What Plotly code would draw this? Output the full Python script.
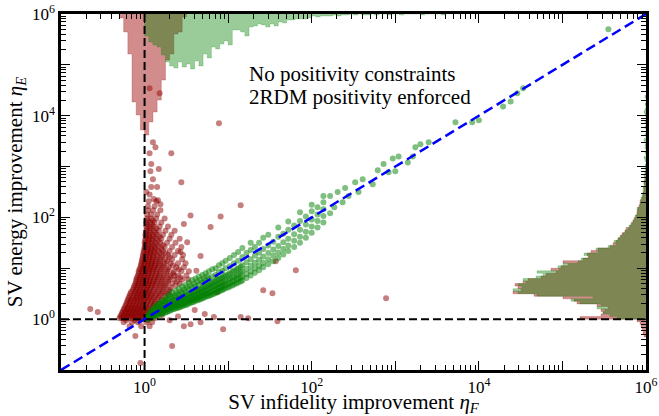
import plotly.graph_objects as go

# ---------------- data (log10 exponents) ----------------
# dense cloud of "No positivity constraints" points: rows of (log10 eta_E, [log10 eta_F ...])
red_cloud_rows = [
    (-0.14, [-0.18, -0.04, 0.06]),
    (-0.06, [-0.25, -0.15, -0.08, 0.02, 0.09]),
    (-0.02, [-0.22, -0.12, -0.05, 0.04]),
    (0.02, [-0.30, -0.27, -0.23, -0.19, -0.15, -0.11, -0.07, -0.03, 0.01, 0.06, 0.12]),
    (0.05, [-0.29, -0.25, -0.21, -0.17, -0.13, -0.09, -0.05, -0.01, 0.03, 0.08]),
    (0.08, [-0.28, -0.24, -0.20, -0.16, -0.12, -0.08, -0.04, 0.00, 0.05, 0.10, 0.21]),
    (0.12, [-0.27, -0.23, -0.19, -0.15, -0.11, -0.07, -0.03, 0.01, 0.06]),
    (0.15, [-0.26, -0.22, -0.18, -0.14, -0.10, -0.06, -0.02, 0.03, 0.08]),
    (0.19, [-0.25, -0.21, -0.17, -0.13, -0.09, -0.05, -0.01, 0.04]),
    (0.22, [-0.24, -0.20, -0.16, -0.12, -0.08, -0.04, 0.00, 0.05, 0.10]),
    (0.26, [-0.23, -0.19, -0.15, -0.11, -0.07, -0.03, 0.01, 0.06, 0.11]),
    (0.30, [-0.22, -0.18, -0.14, -0.10, -0.06, -0.02, 0.02, 0.07, 0.12, 0.17]),
    (0.34, [-0.21, -0.17, -0.13, -0.09, -0.05, -0.01, 0.03, 0.08, 0.13]),
    (0.38, [-0.20, -0.16, -0.12, -0.08, -0.04, 0.00, 0.04, 0.09, 0.15, 0.21]),
    (0.42, [-0.19, -0.14, -0.10, -0.06, -0.02, 0.02, 0.06, 0.11, 0.17]),
    (0.46, [-0.18, -0.13, -0.09, -0.05, -0.01, 0.03, 0.08, 0.13, 0.19, 0.25]),
    (0.50, [-0.17, -0.12, -0.08, -0.04, 0.00, 0.04, 0.08, 0.14, 0.20, 0.27]),
    (0.54, [-0.16, -0.11, -0.07, -0.03, 0.01, 0.05, 0.10, 0.16, 0.22, 0.29]),
    (0.58, [-0.14, -0.10, -0.06, -0.02, 0.02, 0.06, 0.11, 0.17, 0.23, 0.30]),
    (0.62, [-0.13, -0.09, -0.05, -0.01, 0.03, 0.07, 0.12, 0.18, 0.24, 0.31]),
    (0.66, [-0.12, -0.08, -0.04, 0.00, 0.04, 0.08, 0.13, 0.19, 0.25, 0.37]),
    (0.70, [-0.11, -0.07, -0.03, 0.01, 0.05, 0.09, 0.14, 0.20, 0.26, 0.33, 0.42]),
    (0.74, [-0.10, -0.06, -0.02, 0.02, 0.06, 0.10, 0.15, 0.21, 0.28, 0.39]),
    (0.78, [-0.10, -0.06, -0.02, 0.02, 0.06, 0.11, 0.16, 0.22, 0.29, 0.36, 0.45, 0.52]),
    (0.82, [-0.09, -0.05, -0.01, 0.03, 0.07, 0.12, 0.17, 0.23, 0.30, 0.43]),
    (0.86, [-0.08, -0.04, 0.00, 0.04, 0.08, 0.13, 0.18, 0.24, 0.31, 0.40, 0.50]),
    (0.90, [-0.07, -0.03, 0.01, 0.05, 0.09, 0.14, 0.19, 0.26, 0.34]),
    (0.94, [-0.07, -0.03, 0.01, 0.05, 0.09, 0.14, 0.20, 0.27, 0.35, 0.44, 0.53]),
    (0.98, [-0.06, -0.02, 0.02, 0.06, 0.10, 0.15, 0.21, 0.28, 0.41]),
    (1.02, [-0.05, -0.01, 0.03, 0.07, 0.11, 0.16, 0.22, 0.29, 0.38, 0.47]),
    (1.06, [-0.04, 0.00, 0.04, 0.08, 0.12, 0.17, 0.23, 0.34]),
    (1.10, [-0.04, 0.00, 0.04, 0.08, 0.13, 0.18, 0.24, 0.31, 0.40, 0.49]),
    (1.14, [-0.03, 0.01, 0.05, 0.09, 0.13, 0.19, 0.27]),
    (1.18, [-0.03, 0.01, 0.05, 0.09, 0.14, 0.19, 0.25, 0.33, 0.45]),
    (1.22, [-0.02, 0.02, 0.06, 0.10, 0.15, 0.21, 0.30]),
    (1.26, [-0.02, 0.02, 0.06, 0.10, 0.15, 0.21, 0.28, 0.36, 0.46]),
    (1.30, [-0.01, 0.03, 0.07, 0.12, 0.18, 0.25]),
    (1.34, [-0.01, 0.03, 0.07, 0.11, 0.16, 0.22, 0.30, 0.40]),
    (1.38, [0.00, 0.04, 0.08, 0.13, 0.20]),
    (1.42, [0.00, 0.04, 0.08, 0.12, 0.17, 0.24, 0.33, 0.44]),
    (1.46, [0.01, 0.05, 0.10, 0.15, 0.22]),
    (1.50, [0.00, 0.04, 0.08, 0.13, 0.19, 0.27, 0.37]),
    (1.54, [0.01, 0.05, 0.10, 0.16]),
    (1.58, [0.01, 0.05, 0.09, 0.14, 0.20, 0.30, 0.42]),
    (1.62, [0.02, 0.06, 0.11, 0.18]),
    (1.66, [0.01, 0.05, 0.10, 0.15, 0.22, 0.32]),
    (1.70, [0.02, 0.07, 0.13]),
    (1.74, [0.02, 0.06, 0.11, 0.17, 0.25, 0.36]),
    (1.78, [0.03, 0.08, 0.14]),
    (1.82, [0.02, 0.06, 0.11, 0.18, 0.28]),
    (1.86, [0.03, 0.09]),
    (1.90, [0.02, 0.07, 0.12, 0.20]),
    (1.94, [0.04, 0.10]),
    (1.98, [0.03, 0.08, 0.14, 0.24]),
    (2.06, [0.03, 0.08, 0.15]),
    (2.14, [0.04, 0.10, 0.19]),
    (2.22, [0.04, 0.12]),
    (2.32, [0.05, 0.14]),
    (2.45, [0.06]),
    (2.60, [0.08, 0.15]),
    (2.75, [0.10]),
]
# scattered "No positivity constraints" points: (log10 eta_F, log10 eta_E)
red_outliers = [
    (0.06, 4.54), (0.18, 4.44), (0.89, 3.85), (0.10, 3.48), (0.13, 3.38), (0.32, 3.26),
    (0.06, 3.26), (0.08, 3.05), (0.17, 2.95), (0.07, 2.91), (0.44, 2.69), (0.02, 2.50),
    (0.11, 2.36), (0.16, 2.34), (0.19, 2.26), (1.15, 2.24), (0.55, 2.04), (0.91, 2.02),
    (0.79, 1.81), (0.47, 1.87), (0.51, 1.51), (0.43, 1.32), (0.67, 1.24), (1.57, 1.14),
    (1.81, 0.96), (1.42, 0.57), (1.53, 0.51), (0.87, 0.53), (1.24, 0.02), (1.59, -0.04),
    (0.47, -0.14), (2.89, 0.41), (-0.65, 0.20), (-0.56, 0.14), (-0.11, -0.33), (0.33, -0.53),
    (-0.05, -0.86), (0.67, -0.06), (0.83, 0.04), (0.94, -0.20), (0.55, -0.10), (1.15, 0.04),
    (0.60, 0.18), (0.72, 0.10), (0.40, 0.05), (0.30, -0.02), (0.62, 0.95), (0.36, 0.85),
]

# dense band of "2RDM positivity enforced" points: columns of (log10 eta_F, [log10 eta_E ...])
green_band_cols = [
    (0.02, [0.00, 0.03]), (0.035, [0.01, 0.05]),
    (0.05, [0.01, 0.05, 0.10]), (0.07, [0.02, 0.06, 0.11, 0.15]),
    (0.09, [0.03, 0.08, 0.13, 0.18]), (0.11, [0.04, 0.08, 0.12, 0.17, 0.22]),
    (0.13, [0.06, 0.10, 0.15, 0.20, 0.26]), (0.15, [0.07, 0.11, 0.16, 0.22, 0.28]),
    (0.17, [0.08, 0.13, 0.18, 0.24, 0.31]), (0.19, [0.09, 0.14, 0.19, 0.25, 0.32]),
    (0.21, [0.11, 0.16, 0.21, 0.27, 0.35]), (0.23, [0.12, 0.17, 0.22, 0.28, 0.36]),
    (0.25, [0.13, 0.18, 0.23, 0.29, 0.36, 0.42]), (0.27, [0.14, 0.19, 0.25, 0.31, 0.39]),
    (0.29, [0.16, 0.21, 0.26, 0.32, 0.40, 0.48]), (0.31, [0.17, 0.22, 0.27, 0.34, 0.45]),
    (0.33, [0.19, 0.24, 0.29, 0.35, 0.43, 0.53]), (0.35, [0.20, 0.25, 0.30, 0.36, 0.46]),
    (0.37, [0.21, 0.26, 0.31, 0.37, 0.45, 0.56]), (0.39, [0.22, 0.27, 0.32, 0.39, 0.50]),
    (0.41, [0.23, 0.28, 0.34, 0.40, 0.48, 0.60]), (0.43, [0.24, 0.29, 0.35, 0.42, 0.54]),
    (0.45, [0.26, 0.31, 0.37, 0.43, 0.52, 0.64]), (0.47, [0.27, 0.32, 0.38, 0.45, 0.58]),
    (0.49, [0.28, 0.33, 0.39, 0.46, 0.55, 0.67]), (0.51, [0.29, 0.34, 0.40, 0.48, 0.62]),
    (0.53, [0.31, 0.36, 0.42, 0.49, 0.58, 0.72]), (0.55, [0.32, 0.37, 0.43, 0.51, 0.66]),
    (0.57, [0.33, 0.39, 0.45, 0.52, 0.62, 0.77]), (0.59, [0.34, 0.40, 0.46, 0.54, 0.70]),
    (0.61, [0.36, 0.41, 0.47, 0.55, 0.65, 0.80]), (0.63, [0.37, 0.42, 0.49, 0.57, 0.74]),
    (0.65, [0.38, 0.44, 0.50, 0.58, 0.68, 0.84]), (0.67, [0.39, 0.45, 0.52, 0.60, 0.77]),
    (0.69, [0.41, 0.47, 0.53, 0.61, 0.72, 0.87]), (0.71, [0.42, 0.48, 0.55, 0.63, 0.80]),
    (0.73, [0.44, 0.50, 0.57, 0.64, 0.76, 0.90]), (0.75, [0.45, 0.51, 0.58, 0.66, 0.84]),
    (0.77, [0.46, 0.52, 0.60, 0.68, 0.80, 0.94]), (0.79, [0.47, 0.54, 0.62, 0.70]),
    (0.81, [0.49, 0.55, 0.63, 0.72, 0.84, 0.98]), (0.83, [0.50, 0.57, 0.65, 0.74]),
    (0.85, [0.52, 0.58, 0.66, 0.75, 0.87, 1.00]), (0.87, [0.53, 0.60, 0.68, 0.78]),
    (0.89, [0.55, 0.61, 0.69, 0.79, 0.92, 1.06]), (0.91, [0.56, 0.63, 0.71, 0.81]),
    (0.93, [0.58, 0.64, 0.72, 0.82, 0.95, 1.10]), (0.95, [0.59, 0.66, 0.74, 0.85]),
    (0.97, [0.61, 0.67, 0.76, 0.86, 1.00, 1.15]), (1.00, [0.62, 0.69, 0.78, 0.88]),
    (1.02, [0.64, 0.71, 0.80, 0.90, 1.04, 1.20]), (1.05, [0.66, 0.73, 0.82, 0.93]),
    (1.07, [0.68, 0.75, 0.84, 0.95, 1.10, 1.26]), (1.10, [0.70, 0.78, 0.87, 0.98]),
    (1.12, [0.72, 0.80, 0.89, 1.00, 1.15, 1.32]), (1.15, [0.74, 0.82, 0.92, 1.03]),
    (1.17, [0.76, 0.84, 0.94, 1.06, 1.22, 1.40]),
    (1.22, [0.81, 0.89, 0.99, 1.12, 1.30]),
    (1.27, [0.86, 0.94, 1.05, 1.18, 1.36, 1.50]),
    (1.32, [0.91, 1.00, 1.11, 1.25, 1.42]),
    (1.37, [0.96, 1.05, 1.17, 1.31, 1.50]),
    (1.42, [1.02, 1.11, 1.23, 1.38, 1.60]),
    (1.48, [1.08, 1.18, 1.30, 1.45, 1.66]),
    (1.54, [1.14, 1.25, 1.37, 1.52]),
    (1.60, [1.20, 1.31, 1.44, 1.62, 1.80]),
    (1.66, [1.27, 1.38, 1.51, 1.68]),
    (1.72, [1.34, 1.45, 1.58, 1.76, 1.92]),
    (1.79, [1.42, 1.54, 1.67, 1.84]),
    (1.86, [1.50, 1.62, 1.76, 1.93, 2.10]),
    (1.93, [1.60, 1.72, 1.86, 2.02]),
    (2.00, [1.70, 1.82, 1.96, 2.12, 2.25]),
    (2.07, [1.80, 1.93, 2.06, 2.20]),
    (2.14, [1.90, 2.03, 2.16, 2.30, 2.42]),
]
# sparse "2RDM positivity enforced" points along the diagonal: (log10 eta_F, log10 eta_E)
green_sparse = [
    (2.22, 2.08), (2.22, 2.42), (2.31, 2.50), (2.37, 2.30), (2.44, 2.42), (2.52, 2.69),
    (2.61, 2.75), (2.73, 2.65), (2.79, 2.93), (2.86, 3.05), (2.92, 2.89), (3.00, 2.91),
    (2.97, 3.16), (3.04, 3.20), (3.15, 3.08), (3.21, 3.20), (3.24, 3.38), (3.30, 3.44),
    (3.40, 3.48), (3.72, 3.87), (3.92, 3.87), (4.00, 3.91), (4.29, 4.18), (4.38, 4.28),
    (4.46, 4.44), (4.53, 4.54), (5.55, 5.70), (2.27, 2.20), (2.40, 2.58), (2.56, 2.50),
]

# marginal histograms (log10 bin starts, bin width 0.05 decade; counts)
hist_bin = 0.05
top_red_start = -0.30
top_red_counts = [4, 18, 40, 88, 101, 116, 121, 108, 98, 86, 66, 46, 40, 20, 18, 3]
top_green_start = 0.00
top_green_counts = [22, 28, 31, 33, 41, 48, 52, 54, 48, 53, 50, 55, 47, 52, 40, 44, 33, 35,
                    30, 27, 31, 16, 16, 18, 22, 13, 12, 10, 11, 13, 10, 12, 8, 9, 6, 6, 5, 5,
                    5, 4, 2, 3, 2, 2, 2, 1, 2, 1, 1, 0, 1, 0, 1, 1, 0, 1, 0, 0, 1, 0, 0, 1, 0,
                    0, 0, 0, 1, 0, 0, 0, 0, 1]
right_red_start = -0.35
right_red_counts = [2, 3, 3, 4, 5, 6, 9, 66, 45, 43, 45, 38, 49, 69, 72, 83, 112, 133, 125,
                    128, 131, 123, 118, 105, 100, 90, 95, 85, 78, 83, 63, 58, 59, 55, 48, 36,
                    33, 30, 28, 26, 24, 21, 20, 16, 15, 13, 12, 10, 9, 9, 8, 7, 6, 6, 4, 3, 3,
                    2, 2, 1, 2, 1, 1, 0, 1]
right_green_start = 0.00
right_green_counts = [29, 36, 43, 41, 49, 45, 66, 75, 53, 109, 128, 133, 124, 128, 120, 123,
                      110, 103, 109, 87, 88, 83, 68, 65, 57, 62, 48, 50, 38, 30, 32, 28, 25,
                      23, 21, 18, 17, 14, 13, 11, 11, 9, 8, 9, 6, 6, 5, 5, 4, 3, 3, 3, 2, 2,
                      2, 1, 2, 1, 1, 1, 1, 0, 1, 2, 0, 1, 0, 1, 1, 0, 2, 0, 1, 0, 0, 1, 0, 1,
                      0, 0, 1, 2, 1, 0, 1, 0, 0, 1]
hist_scale_top = 356     # counts spanning the full plot height
hist_scale_right = 585   # counts spanning the full plot width

# reference lines
unity = 1.0
axis_lo, axis_hi = 0.1, 1e6
legend_labels = ["No positivity constraints", "2RDM positivity enforced"]

# ---------------- build ----------------
def cloud_rows_to_xy(rows):
    xs, ys = [], []
    for ly, lxs in rows:
        for lx in lxs:
            xs.append(10 ** lx); ys.append(10 ** ly)
    return xs, ys

def cloud_cols_to_xy(cols):
    xs, ys = [], []
    for lx, lys in cols:
        for ly in lys:
            xs.append(10 ** lx); ys.append(10 ** ly)
    return xs, ys

rx, ry = cloud_rows_to_xy(red_cloud_rows)
rx += [10 ** a for a, b in red_outliers]
ry += [10 ** b for a, b in red_outliers]
gx, gy = cloud_cols_to_xy(green_band_cols)
gx += [10 ** a for a, b in green_sparse]
gy += [10 ** b for a, b in green_sparse]

def step_top(start, counts):
    edges = [10 ** (start + i * hist_bin) for i in range(len(counts) + 1)]
    xs = [edges[0]] + edges[:-1] + [edges[-1], edges[-1]]
    ys = [0] + counts + [counts[-1], 0]
    return xs, ys

def step_right(start, counts):
    edges = [10 ** (start + i * hist_bin) for i in range(len(counts) + 1)]
    ys = [edges[0]] + edges[:-1] + [edges[-1], edges[-1]]
    xs = [0] + counts + [counts[-1], 0]
    return xs, ys

RED_HIST = "rgba(165,25,25,0.5)"
GREEN_HIST = "rgba(0,128,0,0.4)"
RED_PT = "rgba(139,0,0,0.5)"
GREEN_PT = "rgba(0,128,0,0.5)"
FONT = "Liberation Serif"

fig = go.Figure()

# scatter points (main log-log axes)
fig.add_trace(go.Scatter(x=rx, y=ry, mode="markers",
                         marker=dict(size=6, color=RED_PT, line=dict(width=0)),
                         name=legend_labels[0], showlegend=False))
fig.add_trace(go.Scatter(x=gx, y=gy, mode="markers",
                         marker=dict(size=6, color=GREEN_PT, line=dict(width=0)),
                         name=legend_labels[1], showlegend=False))

# top marginal histograms (hang from the top edge)
for start, counts, col in [(top_red_start, top_red_counts, RED_HIST),
                           (top_green_start, top_green_counts, GREEN_HIST)]:
    hx, hy = step_top(start, counts)
    fig.add_trace(go.Scatter(x=hx, y=hy, xaxis="x", yaxis="y2", mode="lines",
                             line=dict(width=0.5, color=col, shape="hv"), fill="tozeroy",
                             fillcolor=col, hoverinfo="skip", showlegend=False))
# right marginal histograms (extend from the right edge)
for start, counts, col in [(right_red_start, right_red_counts, RED_HIST),
                           (right_green_start, right_green_counts, GREEN_HIST)]:
    hx, hy = step_right(start, counts)
    fig.add_trace(go.Scatter(x=hx, y=hy, xaxis="x2", yaxis="y", mode="lines",
                             line=dict(width=0.5, color=col, shape="vh"), fill="tozerox",
                             fillcolor=col, hoverinfo="skip", showlegend=False))

# reference lines (on an overlay so they sit on top)
fig.add_trace(go.Scatter(x=[unity, unity], y=[axis_lo, axis_hi], xaxis="x3", yaxis="y3",
                         mode="lines", line=dict(color="black", width=2, dash="8px,4px"),
                         showlegend=False, hoverinfo="skip"))
fig.add_trace(go.Scatter(x=[axis_lo, axis_hi], y=[unity, unity], xaxis="x3", yaxis="y3",
                         mode="lines", line=dict(color="black", width=2, dash="8px,4px"),
                         showlegend=False, hoverinfo="skip"))
fig.add_trace(go.Scatter(x=[axis_lo, axis_hi], y=[axis_lo, axis_hi], xaxis="x3", yaxis="y3",
                         mode="lines", line=dict(color="blue", width=2.5, dash="10px,5px"),
                         showlegend=False, hoverinfo="skip"))

decades = list(range(-1, 7))
major_vals = [10.0 ** d for d in decades]
major_text = ["10<sup>%d</sup>" % d if d % 2 == 0 and d >= 0 else "" for d in decades]

axis_common = dict(
    type="log", range=[-1, 6], showgrid=False, zeroline=False, automargin=False,
    showline=True, linecolor="black", linewidth=2.5, mirror="ticks",
    ticks="inside", ticklen=9, tickwidth=1, tickcolor="black",
    tickmode="array", tickvals=major_vals, ticktext=major_text,
    tickfont=dict(family=FONT, size=17, color="black"),
    minor=dict(ticks="inside", ticklen=5, tickwidth=1, tickcolor="black",
               dtick="D1", showgrid=False),
)

fig.update_layout(
    width=659, height=416,
    margin=dict(l=61, r=13, t=14, b=46),
    paper_bgcolor="white", plot_bgcolor="white",
    showlegend=False,
    xaxis=dict(**axis_common, anchor="y",
               title=dict(text="SV infidelity improvement <i>η</i><sub><i>F</i></sub>",
                          font=dict(family=FONT, size=21, color="black"), standoff=4)),
    yaxis=dict(**axis_common, anchor="x",
               title=dict(text="SV energy improvement <i>η</i><sub><i>E</i></sub>",
                          font=dict(family=FONT, size=21, color="black"), standoff=4)),
    yaxis2=dict(overlaying="y", range=[hist_scale_top, 0], visible=False, anchor="x",
                automargin=False),
    xaxis2=dict(overlaying="x", range=[hist_scale_right, 0], visible=False, anchor="y",
                automargin=False),
    xaxis3=dict(overlaying="x", type="log", range=[-1, 6], visible=False, anchor="y3",
                automargin=False),
    yaxis3=dict(overlaying="y", type="log", range=[-1, 6], visible=False, anchor="x3",
                automargin=False),
    annotations=[
        dict(text=legend_labels[0], xref="paper", yref="paper", x=0.318, y=0.832,
             xanchor="left", yanchor="middle", showarrow=False,
             font=dict(family=FONT, size=21, color="black")),
        dict(text=legend_labels[1], xref="paper", yref="paper", x=0.318, y=0.766,
             xanchor="left", yanchor="middle", showarrow=False,
             font=dict(family=FONT, size=21, color="black")),
    ],
)

# remove the browser's default 8px page margin so the figure fills the window exactly
fig.write_html("out.html", config={"displayModeBar": False},
               post_script="document.body.style.margin='0';")
